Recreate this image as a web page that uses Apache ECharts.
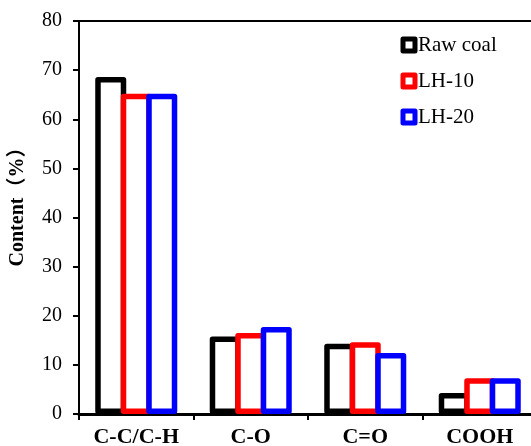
<!DOCTYPE html>
<html>
<head>
<meta charset="utf-8">
<script src="https://cdn.jsdelivr.net/npm/echarts@6/dist/echarts.min.js"></script>
<style>html,body{margin:0;padding:0;background:#fff}#c{width:531px;height:446px}</style>
</head>
<body>
<div id="c"></div>
<script>
var categories = ['C-C/C-H', 'C-O', 'C=O', 'COOH'];
var rawCoal = [68.6, 15.8, 14.3, 4.3];
var lh10 = [65.2, 16.5, 14.6, 7.3];
var lh20 = [65.2, 17.7, 12.4, 7.3];
var seriesNames = ['Raw coal', 'LH-10', 'LH-20'];
var seriesColors = ['#000000', '#ff0000', '#0000ff'];
var seriesData = [rawCoal, lh10, lh20];
var serif = '"Times New Roman", "Liberation Serif", "Noto Sans CJK SC", serif';

var chart = echarts.init(document.getElementById('c'), null, {renderer: 'canvas'});
var series = seriesNames.map(function (n, i) {
  return {
    name: n,
    type: 'bar',
    data: seriesData[i],
    barWidth: 31,
    barGap: '-17.7%',
    itemStyle: {color: '#ffffff', borderColor: seriesColors[i], borderWidth: 5.5, borderJoin: 'round'},
    emphasis: {disabled: true}
  };
});
chart.setOption({
  animation: false,
  grid: {left: 79, right: -6, top: 21, bottom: 32, outerBoundsMode: 'none', containLabel: false, show: true, borderColor: '#000', borderWidth: 2, backgroundColor: 'transparent'},
  legend: {
    data: seriesNames,
    orient: 'vertical',
    left: 400.5,
    top: 34.5,
    padding: 0,
    itemWidth: 12,
    itemHeight: 12,
    itemGap: 15,
    icon: 'rect',
    itemStyle: {borderWidth: 5},
    textStyle: {fontFamily: serif, fontSize: 21, color: '#000', padding: [0, 0, 0, -2]}
  },
  xAxis: {
    type: 'category',
    data: categories,
    axisLine: {lineStyle: {color: '#000', width: 3}},
    axisTick: {show: true, length: 6, lineStyle: {color: '#000', width: 2}},
    axisLabel: {fontFamily: serif, fontSize: 22, fontWeight: 'bold', color: '#000', margin: 12}
  },
  yAxis: {
    type: 'value',
    min: 0,
    max: 80,
    interval: 10,
    name: 'Content（%）',
    nameLocation: 'middle',
    nameGap: 51,
    nameTextStyle: {fontFamily: serif, fontSize: 20, fontWeight: 'bold', color: '#000', padding: [0, 0, 0, 31]},
    axisLine: {show: true, lineStyle: {color: '#000', width: 2}},
    axisTick: {show: true, length: 6, lineStyle: {color: '#000', width: 2}},
    splitLine: {show: false},
    axisLabel: {fontFamily: serif, fontSize: 20, color: '#000', margin: 17}
  },
  series: series
});
</script>
</body>
</html>
